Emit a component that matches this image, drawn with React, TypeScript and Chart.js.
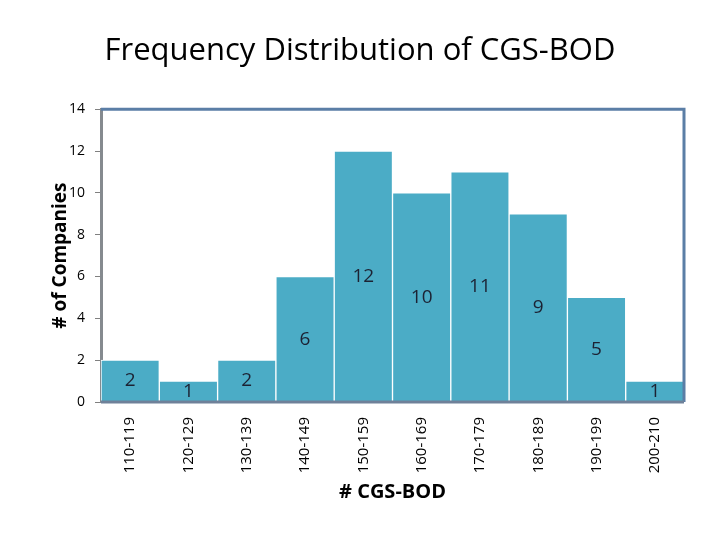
import React, { useEffect, useRef } from "react";
import { Chart, registerables } from "chart.js";

Chart.register(...registerables);

const categories = ["110-119", "120-129", "130-139", "140-149", "150-159", "160-169", "170-179", "180-189", "190-199", "200-210"];
const frequencies = [2, 1, 2, 6, 12, 10, 11, 9, 5, 1];
const yTicks = [0, 2, 4, 6, 8, 10, 12, 14];

const FONT = "'Open Sans', 'DejaVu Sans', sans-serif";

const labelPlugin = {
  id: "centerLabels",
  afterDatasetsDraw(chart: any) {
    const ctx = chart.ctx;
    const meta = chart.getDatasetMeta(0);
    const ys = chart.scales.y;
    ctx.save();
    ctx.fillStyle = "#1c2233";
    ctx.font = `19px ${FONT}`;
    ctx.textAlign = "center";
    ctx.textBaseline = "middle";
    meta.data.forEach((bar: any, i: number) => {
      const v = frequencies[i];
      const y = ys.getPixelForValue(v / 2);
      ctx.fillText(String(v), bar.x, y);
    });
    ctx.restore();
  },
};

const borderPlugin = {
  id: "plotBorder",
  afterDraw(chart: any) {
    const { ctx, chartArea: a } = chart;
    ctx.save();
    ctx.strokeStyle = "#5b7ea6";
    ctx.lineWidth = 3;
    ctx.beginPath();
    ctx.moveTo(a.left, a.top);
    ctx.lineTo(a.right, a.top);
    ctx.lineTo(a.right, a.bottom);
    ctx.stroke();
    ctx.strokeStyle = "#6f8199";
    ctx.beginPath();
    ctx.moveTo(a.left, a.bottom);
    ctx.lineTo(a.right, a.bottom);
    ctx.stroke();
    ctx.restore();
  },
};

export default function App() {
  const ref = useRef<HTMLCanvasElement>(null);
  useEffect(() => {
    if (!ref.current) return;
    const chart = new Chart(ref.current, {
      type: "bar",
      data: {
        labels: categories,
        datasets: [
          {
            data: frequencies,
            backgroundColor: "#4bacc6",
            borderColor: "#ffffff",
            borderWidth: 1,
            categoryPercentage: 1,
            barPercentage: 1,
          },
        ],
      },
      options: {
        animation: false,
        responsive: true,
        maintainAspectRatio: false,
        layout: { padding: { left: 0, right: 0, top: 0, bottom: 0 } },
        plugins: {
          legend: { display: false },
          tooltip: { enabled: false },
          title: {
            display: true,
            text: "Frequency Distribution of CGS-BOD",
            color: "#000000",
            font: { family: FONT, size: 31, weight: "normal" },
            padding: { top: 33, bottom: 39 },
          },
        },
        scales: {
          x: {
            grid: { display: false },
            border: { display: false },
            ticks: {
              color: "#000000",
              font: { family: FONT, size: 15 },
              maxRotation: 90,
              minRotation: 90,
              padding: 7,
            },
            title: {
              display: true,
              text: "# CGS-BOD",
              color: "#000000",
              font: { family: FONT, size: 20, weight: "bold" },
              padding: { top: 0, bottom: 36 },
            },
            afterFit: (s: any) => {
              s.height = 138;
            },
          },
          y: {
            min: 0,
            max: 14,
            afterBuildTicks: (s: any) => {
              s.ticks = yTicks.map((v) => ({ value: v }));
            },
            grid: {
              display: true,
              drawOnChartArea: false,
              drawTicks: true,
              tickLength: 6,
              color: "#808080",
              lineWidth: 1,
            },
            border: { display: true, color: "#858a8f", width: 3 },
            ticks: {
              color: "#000000",
              font: { family: FONT, size: 14 },
              padding: 10,
            },
            title: {
              display: true,
              text: "# of Companies",
              color: "#000000",
              font: { family: FONT, size: 19, weight: "bold" },
              padding: { top: 49, bottom: 0 },
            },
            afterFit: (s: any) => {
              s.width = 101;
            },
          },
          y2: {
            position: "right",
            display: true,
            min: 0,
            max: 14,
            grid: { display: false },
            border: { display: false },
            ticks: { display: false },
            afterFit: (s: any) => {
              s.width = 36;
            },
          },
        },
      },
      plugins: [labelPlugin, borderPlugin],
    });
    return () => chart.destroy();
  }, []);
  return (
    <div style={{ position: "absolute", left: 0, top: 0, width: 720, height: 540, background: "#ffffff" }}>
      <canvas ref={ref} />
    </div>
  );
}
